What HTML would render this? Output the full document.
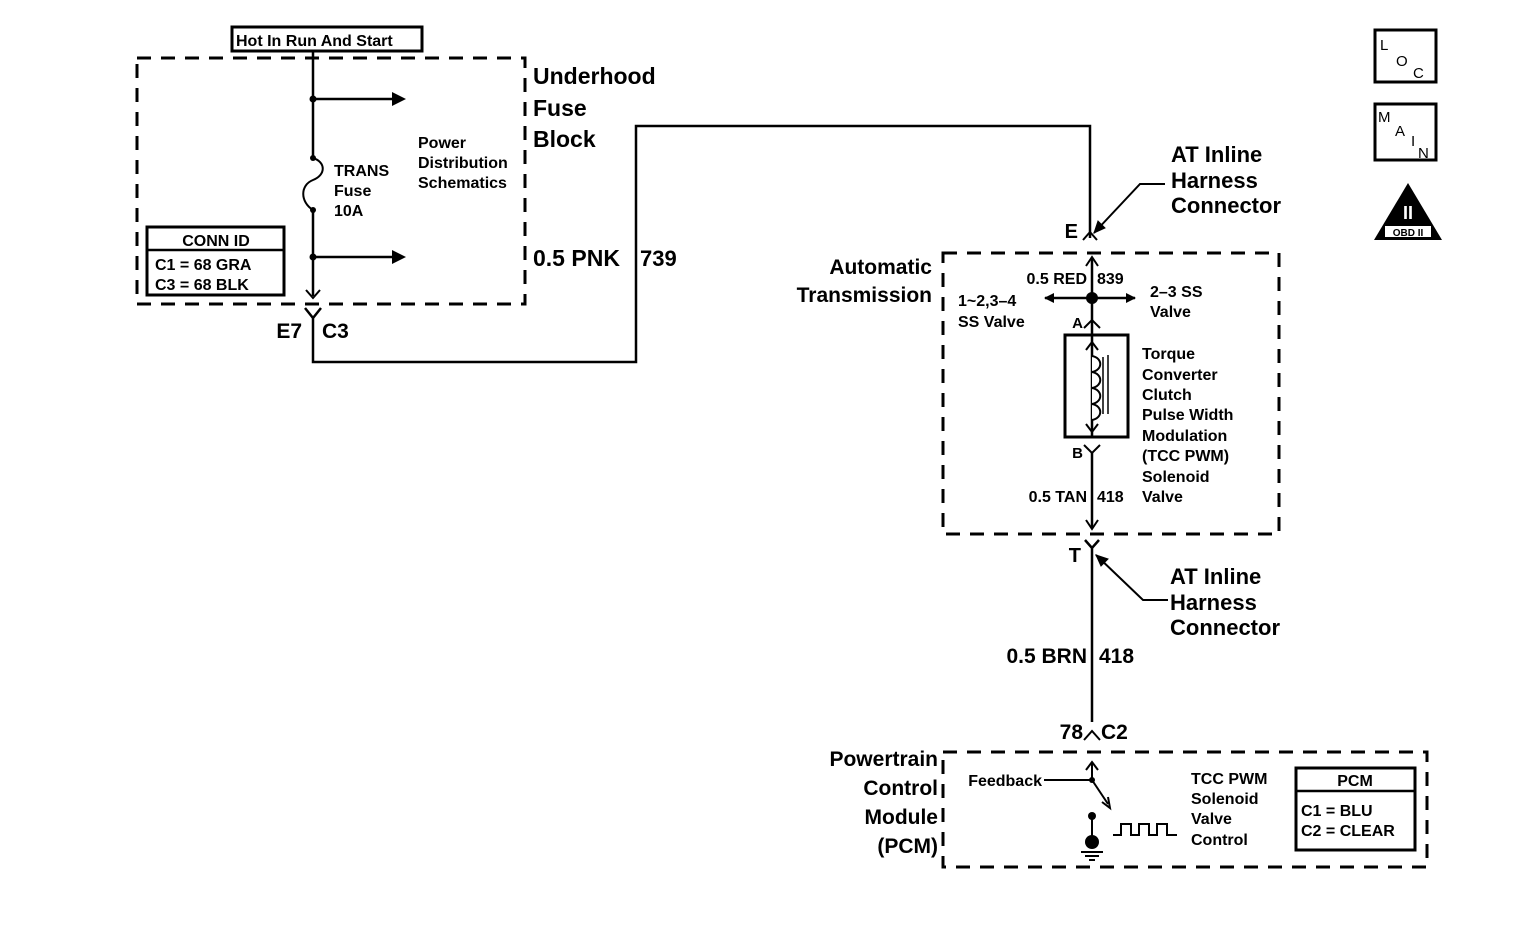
<!DOCTYPE html>
<html><head><meta charset="utf-8"><style>
html,body{margin:0;padding:0;background:#fff;}
svg{display:block;}
text{font-family:"Liberation Sans",Arial,sans-serif;fill:#000;}
.b{font-weight:bold;}
</style></head><body>
<svg width="1520" height="952" viewBox="0 0 1520 952" xmlns="http://www.w3.org/2000/svg">
<defs>
<marker id="ah" markerWidth="10" markerHeight="10" refX="9" refY="5" orient="auto" markerUnits="userSpaceOnUse"><path d="M0,0 L10,5 L0,10 Z" fill="#000"/></marker>
</defs>
<g stroke="#000" fill="none">
<rect x="232" y="27" width="190" height="24" stroke-width="3"/>
<rect x="137" y="58" width="388" height="246" stroke-width="3" stroke-dasharray="14,10"/>
<path d="M313,51 V158 M313,210 V296" stroke-width="2.5"/>
<path d="M313,158 C326,162 326,175 313,180 C300,185 300,202 313,210" stroke-width="2"/>
<path d="M306,290 L313,298 L320,290" stroke-width="2"/>
<path d="M313,99 H392 M313,257 H392" stroke-width="2.5"/>
<rect x="147" y="227" width="137" height="68" stroke-width="3"/>
<path d="M147,250 H284" stroke-width="2.5"/>
<path d="M305,308 L313,318 L321,308 M313,318 V362 H636 V126 H1090 V238" stroke-width="2.5"/>
<path d="M1083,240 L1090,232 L1097,240" stroke-width="2"/>
<rect x="943" y="253" width="336" height="281" stroke-width="3" stroke-dasharray="14,10"/>
<path d="M1092,258 V438 M1092,453 V528" stroke-width="2.5"/>
<path d="M1086,266 L1092,257 L1098,266" stroke-width="2"/>
<path d="M1092,298 H1135" stroke-width="2.5" marker-end="url(#ah)"/>
<path d="M1092,298 H1045" stroke-width="2.5" marker-end="url(#ah)"/>
<path d="M1084,328 L1092,320 L1100,328" stroke-width="2"/>
<rect x="1065" y="335" width="63" height="102" stroke-width="3"/>
<path d="M1092,344 V356 C1103,358 1103,370 1092,372 C1103,374 1103,386 1092,388 C1103,390 1103,402 1092,404 C1103,406 1103,418 1092,420 V430" stroke-width="2" fill="#fff"/>
<path d="M1086,350 L1092,342 L1098,350 M1086,424 L1092,432 L1098,424" stroke-width="2"/>
<path d="M1103,357 V414 M1108,355 V414" stroke-width="1.5"/>
<path d="M1084,445 L1092,453 L1100,445" stroke-width="2"/>
<path d="M1086,520 L1092,529 L1098,520" stroke-width="2"/>
<path d="M1085,540 L1092,548 L1099,540 M1092,548 V722" stroke-width="2.5"/>
<path d="M1165,184 H1140 L1094,233" stroke-width="2"/>
<path d="M1168,600 H1143 L1096,555" stroke-width="2"/>
<path d="M1094,233 l4,-12 l7,7 z M1096,555 l12,4 l-7,7 z" fill="#000" stroke-width="1"/>
<path d="M1084,740 L1092,731 L1100,740" stroke-width="2"/>
<rect x="943" y="752" width="484" height="115" stroke-width="3" stroke-dasharray="14,10"/>
<path d="M1092,780 V762 M1086,770 L1092,762 L1098,770" stroke-width="2"/>
<path d="M1044,780 H1092 L1108,804" stroke-width="2"/>
<path d="M1102,802 L1110,808 L1108,797" stroke-width="2"/>
<path d="M1092,816 V840 M1081,852 H1103 M1085,856 H1099 M1089,860 H1095" stroke-width="2"/>
<path d="M1113,835 H1121 V824 H1131 V835 H1139 V824 H1149 V835 H1157 V824 H1167 V835 H1177" stroke-width="2"/>
<rect x="1296" y="768" width="119" height="82" stroke-width="3"/>
<path d="M1296,791 H1415" stroke-width="2.5"/>
<rect x="1375" y="30" width="61" height="52" stroke-width="3"/>
<rect x="1375" y="104" width="61" height="56" stroke-width="3"/>
</g>
<path d="M392,92 L406,99 L392,106 Z M392,250 L406,257 L392,264 Z" fill="#000"/>
<circle cx="313" cy="99" r="3.5"/><circle cx="313" cy="257" r="3.5"/>
<circle cx="313" cy="158" r="3"/><circle cx="313" cy="210" r="3"/>
<circle cx="1092" cy="298" r="6"/>
<circle cx="1092" cy="780" r="3"/>
<circle cx="1092" cy="816" r="4"/>
<circle cx="1092" cy="842" r="7"/>
<path d="M1408,183 L1442,240 L1374,240 Z" fill="#000"/>
<rect x="1385" y="226" width="46" height="11" fill="#fff"/>
<text x="1408" y="236" font-size="10" text-anchor="middle" class="b">OBD II</text>
<text x="1408" y="219" font-size="18" text-anchor="middle" style="fill:#fff" class="b">II</text>
<text x="1380" y="50" font-size="15">L</text><text x="1396" y="66" font-size="15">O</text><text x="1413" y="78" font-size="15">C</text>
<text x="1378" y="122" font-size="15">M</text><text x="1395" y="136" font-size="15">A</text><text x="1411" y="146" font-size="15">I</text><text x="1418" y="158" font-size="15">N</text>

<g class="b">
<text x="236" y="46" font-size="16">Hot In Run And Start</text>
<text x="334" y="176" font-size="16">TRANS</text>
<text x="334" y="196" font-size="16">Fuse</text>
<text x="334" y="216" font-size="16">10A</text>
<text x="418" y="148" font-size="16">Power</text>
<text x="418" y="168" font-size="16">Distribution</text>
<text x="418" y="188" font-size="16">Schematics</text>
<text x="216" y="246" font-size="16" text-anchor="middle">CONN ID</text>
<text x="155" y="270" font-size="16">C1 = 68 GRA</text>
<text x="155" y="290" font-size="16">C3 = 68 BLK</text>
<text x="533" y="84" font-size="23">Underhood</text>
<text x="533" y="116" font-size="23">Fuse</text>
<text x="533" y="147" font-size="23">Block</text>
<text x="533" y="266" font-size="23">0.5 PNK</text>
<text x="640" y="266" font-size="22">739</text>
<text x="302" y="338" font-size="21" text-anchor="end">E7</text>
<text x="322" y="338" font-size="21">C3</text>
<text x="1171" y="162" font-size="22">AT Inline</text>
<text x="1171" y="188" font-size="22">Harness</text>
<text x="1171" y="213" font-size="22">Connector</text>
<text x="1078" y="238" font-size="20" text-anchor="end">E</text>
<text x="932" y="274" font-size="21" text-anchor="end">Automatic</text>
<text x="932" y="302" font-size="21" text-anchor="end">Transmission</text>
<text x="1087" y="284" font-size="16" text-anchor="end">0.5 RED</text>
<text x="1097" y="284" font-size="16">839</text>
<text x="958" y="306" font-size="16">1~2,3–4</text>
<text x="958" y="327" font-size="16">SS Valve</text>
<text x="1150" y="297" font-size="16">2–3 SS</text>
<text x="1150" y="317" font-size="16">Valve</text>
<text x="1083" y="328" font-size="15" text-anchor="end">A</text>
<text x="1083" y="458" font-size="15" text-anchor="end">B</text>
<text x="1142" y="359" font-size="16">Torque</text>
<text x="1142" y="380" font-size="16">Converter</text>
<text x="1142" y="400" font-size="16">Clutch</text>
<text x="1142" y="420" font-size="16">Pulse Width</text>
<text x="1142" y="441" font-size="16">Modulation</text>
<text x="1142" y="461" font-size="16">(TCC PWM)</text>
<text x="1142" y="482" font-size="16">Solenoid</text>
<text x="1142" y="502" font-size="16">Valve</text>
<text x="1087" y="502" font-size="16" text-anchor="end">0.5 TAN</text>
<text x="1097" y="502" font-size="16">418</text>
<text x="1081" y="562" font-size="20" text-anchor="end">T</text>
<text x="1170" y="584" font-size="22">AT Inline</text>
<text x="1170" y="610" font-size="22">Harness</text>
<text x="1170" y="635" font-size="22">Connector</text>
<text x="1087" y="663" font-size="21" text-anchor="end">0.5 BRN</text>
<text x="1099" y="663" font-size="21">418</text>
<text x="1083" y="739" font-size="21" text-anchor="end">78</text>
<text x="1101" y="739" font-size="21">C2</text>
<text x="938" y="766" font-size="21" text-anchor="end">Powertrain</text>
<text x="938" y="795" font-size="21" text-anchor="end">Control</text>
<text x="938" y="824" font-size="21" text-anchor="end">Module</text>
<text x="938" y="853" font-size="21" text-anchor="end">(PCM)</text>
<text x="1042" y="786" font-size="16" text-anchor="end">Feedback</text>
<text x="1191" y="784" font-size="16">TCC PWM</text>
<text x="1191" y="804" font-size="16">Solenoid</text>
<text x="1191" y="824" font-size="16">Valve</text>
<text x="1191" y="845" font-size="16">Control</text>
<text x="1355" y="786" font-size="16" text-anchor="middle">PCM</text>
<text x="1301" y="816" font-size="16">C1 = BLU</text>
<text x="1301" y="836" font-size="16">C2 = CLEAR</text>
</g>
</svg>
</body></html>
